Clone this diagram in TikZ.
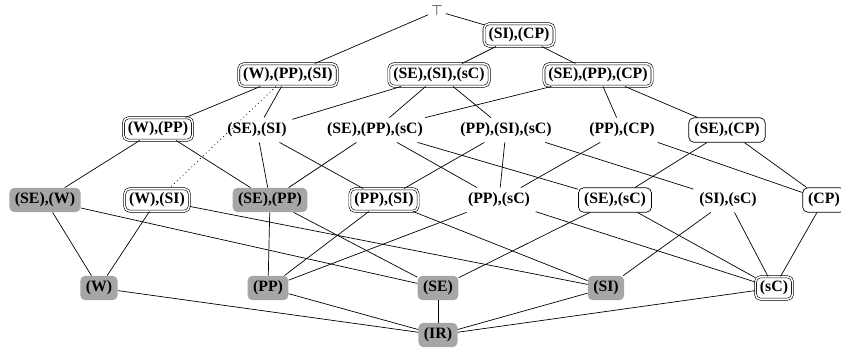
\documentclass[tikz,border=0pt]{standalone}
\usepackage{fontspec}
\setmainfont{Liberation Serif}
\begin{document}
\begin{tikzpicture}[x=1pt,y=-1pt,
  lbl/.style={font=\fontsize{15.8}{18}\selectfont\bfseries, text height=10.8pt, text depth=3.6pt, inner xsep=5.5pt, inner ysep=5pt},
  dbl/.style={lbl, draw, double, double distance=1.5pt, line width=0.6pt, rounded corners=5pt, inner xsep=4.5pt, inner ysep=4pt},
  sgl/.style={lbl, draw, line width=0.7pt, rounded corners=5pt},
  gry/.style={lbl, fill=gray!70, rounded corners=5pt},
  pln/.style={lbl},
  edge/.style={line width=0.7pt},
  dotedge/.style={line width=0.8pt, dash pattern=on 0.8pt off 3.2pt}]
\useasboundingbox (0,0) rectangle (841,352);
% top
\node[inner sep=3pt, font=\fontsize{15}{17}\selectfont] (top) at (437,11) {$\top$};
\node[dbl] (SICP) at (519,35) {(SI),(CP)};
% row 2
\node[dbl] (WPPSI) at (288,75) {(W),(PP),(SI)};
\node[dbl] (SESIsC) at (439,75) {(SE),(SI),(sC)};
\node[dbl] (SEPPCP) at (598,75) {(SE),(PP),(CP)};
% row 3
\node[dbl] (WPP) at (158,129) {(W),(PP)};
\node[pln] (SESI) at (257,130) {(SE),(SI)};
\node[pln] (SEPPsC) at (375,130) {(SE),(PP),(sC)};
\node[pln] (PPSIsC) at (506,130) {(PP),(SI),(sC)};
\node[pln] (PPCP) at (622,130) {(PP),(CP)};
\node[sgl] (SECP) at (727,130) {(SE),(CP)};
% row 4
\node[gry] (SEW) at (45,200) {(SE),(W)};
\node[dbl] (WSI) at (157,200) {(W),(SI)};
\node[gry] (SEPP) at (270,200) {(SE),(PP)};
\node[dbl] (PPSI) at (384,200) {(PP),(SI)};
\node[pln] (PPsC) at (499,200) {(PP),(sC)};
\node[sgl] (SEsC) at (615,200) {(SE),(sC)};
\node[pln] (SIsC) at (728,200) {(SI),(sC)};
\node[sgl] (CP) at (824,200) {(CP)};
% row 5
\node[gry] (W) at (99,288) {(W)};
\node[gry] (PP) at (268,288) {(PP)};
\node[gry] (SE) at (438,288) {(SE)};
\node[gry] (SI) at (606,288) {(SI)};
\node[dbl] (sC) at (774,288) {(sC)};
% bottom
\node[gry] (IR) at (438,335) {(IR)};
% edges
\draw[edge] (top) -- (WPPSI);
\draw[edge] (top) -- (SICP);
\draw[edge] (SICP) -- (SESIsC);
\draw[edge] (SICP) -- (SEPPCP);
\draw[edge] (WPPSI) -- (WPP);
\draw[dotedge] (WPPSI) -- (WSI);
\draw[edge] (WPPSI) -- (SESI);
\draw[edge] (SESIsC) -- (SESI);
\draw[edge] (SESIsC) -- (SEPPsC);
\draw[edge] (SESIsC) -- (PPSIsC);
\draw[edge] (SEPPCP) -- (SEPPsC);
\draw[edge] (SEPPCP) -- (PPCP);
\draw[edge] (SEPPCP) -- (SECP);
\draw[edge] (WPP) -- (SEW);
\draw[edge] (WPP) -- (SEPP);
\draw[edge] (SESI) -- (SEPP);
\draw[edge] (SESI) -- (PPSI);
\draw[edge] (SEPPsC) -- (SEPP);
\draw[edge] (SEPPsC) -- (PPsC);
\draw[edge] (SEPPsC) -- (SEsC);
\draw[edge] (PPSIsC) -- (PPSI);
\draw[edge] (PPSIsC) -- (PPsC);
\draw[edge] (PPSIsC) -- (SIsC);
\draw[edge] (PPCP) -- (PPsC);
\draw[edge] (PPCP) -- (CP);
\draw[edge] (SECP) -- (SEsC);
\draw[edge] (SECP) -- (CP);
\draw[edge] (SEW) -- (W);
\draw[edge] (SEW) -- (SE);
\draw[edge] (WSI) -- (W);
\draw[edge] (WSI) -- (SI);
\draw[edge] (SEPP) -- (PP);
\draw[edge] (SEPP) -- (SE);
\draw[edge] (PPSI) -- (PP);
\draw[edge] (PPSI) -- (SI);
\draw[edge] (PPsC) -- (PP);
\draw[edge] (PPsC) -- (sC);
\draw[edge] (SEsC) -- (SE);
\draw[edge] (SEsC) -- (sC);
\draw[edge] (SIsC) -- (SI);
\draw[edge] (SIsC) -- (sC);
\draw[edge] (CP) -- (sC);
\draw[edge] (W) -- (IR);
\draw[edge] (PP) -- (IR);
\draw[edge] (SE) -- (IR);
\draw[edge] (SI) -- (IR);
\draw[edge] (sC) -- (IR);
\end{tikzpicture}
\end{document}
